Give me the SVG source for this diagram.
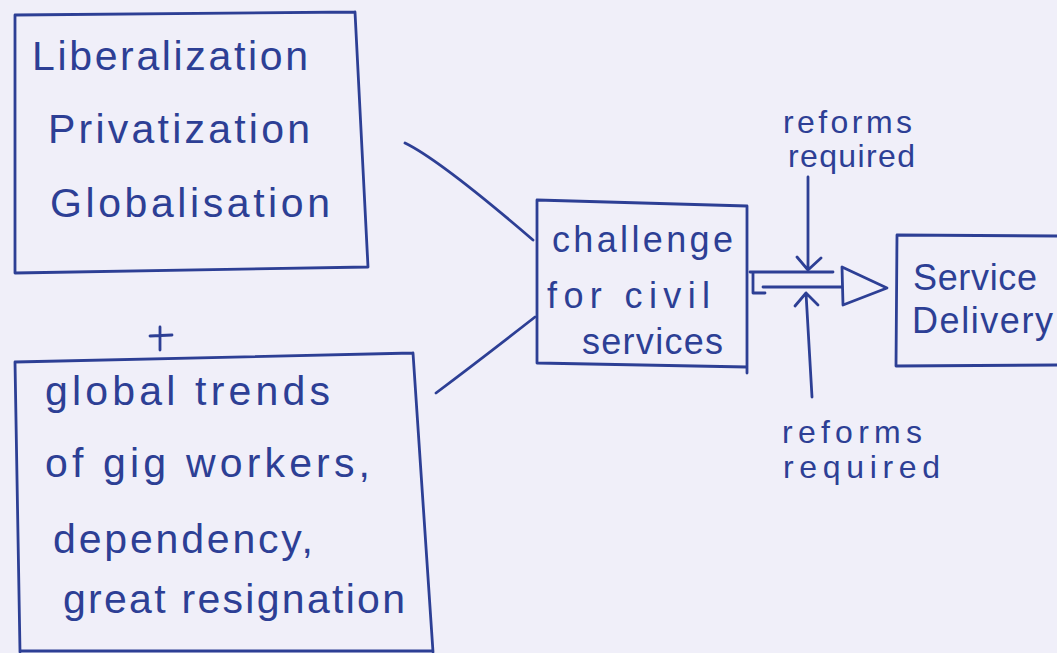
<svg xmlns="http://www.w3.org/2000/svg" width="1057" height="653" viewBox="0 0 1057 653">
<style>
.ink{fill:none;stroke:#2d3f95;stroke-width:2.8;stroke-linecap:round;stroke-linejoin:round}
.t{font-family:"Liberation Sans","DejaVu Sans",sans-serif;fill:#2d3f95}
.big{font-size:41px}
.mid{font-size:36px}
.sm{font-size:32px}
</style>
<rect width="1057" height="653" fill="#f0eff9"/>
<g id="node-lpg">
<path class="ink" d="M15,15 L355,12 M355,12 L368,267 M368,267 L15,273 M15,273 L15,15"/>
<text class="t big" x="32" y="70" textLength="276">Liberalization</text>
<text class="t big" x="48" y="143" textLength="262">Privatization</text>
<text class="t big" x="50" y="217" textLength="280">Globalisation</text>
</g>
<g id="plus">
<path class="ink" d="M160,327 L160,350 M150,336 L172,335"/>
</g>
<g id="node-trends">
<path class="ink" d="M15,362 L413,353 M413,353 L433,652 M15,362 L20,652 M20,651 L433,651"/>
<text class="t big" x="45" y="405" textLength="285">global trends</text>
<text class="t big" x="45" y="477" textLength="325">of gig workers,</text>
<text class="t big" x="53" y="553" textLength="260">dependency,</text>
<text class="t big" x="63" y="613" textLength="342">great resignation</text>
</g>
<g id="node-challenge">
<path class="ink" d="M537,200 L747,206 M747,206 L747,373 M537,200 L537,363 M537,363 L747,367"/>
<text class="t mid" x="552" y="252" textLength="181">challenge</text>
<text class="t mid" x="547" y="308" textLength="163">for civil</text>
<text class="t mid" x="582" y="354" textLength="141">services</text>
</g>
<g id="node-delivery">
<path class="ink" d="M1057,236 L897,235 M897,235 L896,366 M896,366 L1057,365"/>
<text class="t mid" x="913" y="290" textLength="124">Service</text>
<text class="t mid" x="912" y="333" textLength="141">Delivery</text>
</g>
<g id="label-top">
<text class="t sm" x="783" y="133" textLength="129">reforms</text>
<text class="t sm" x="788" y="167" textLength="127">required</text>
</g>
<g id="label-bottom">
<text class="t sm" x="782" y="443" textLength="140">reforms</text>
<text class="t sm" x="783" y="478" textLength="157">required</text>
</g>
<g id="connectors">
<path class="ink" d="M405,143 Q440,160 533,240"/>
<path class="ink" d="M436,393 Q480,360 535,317"/>
<path class="ink" d="M750,272 L833,272 M763,287 L842,287 M753,273 L753,293 L765,293"/>
<path class="ink" d="M842,267 L887,288 L843,305 Z"/>
<path class="ink" d="M808,177 L808,270 M797,257 L808,270 L821,258"/>
<path class="ink" d="M812,397 L806,293 M795,306 L806,293 L818,305"/>
</g>
</svg>
